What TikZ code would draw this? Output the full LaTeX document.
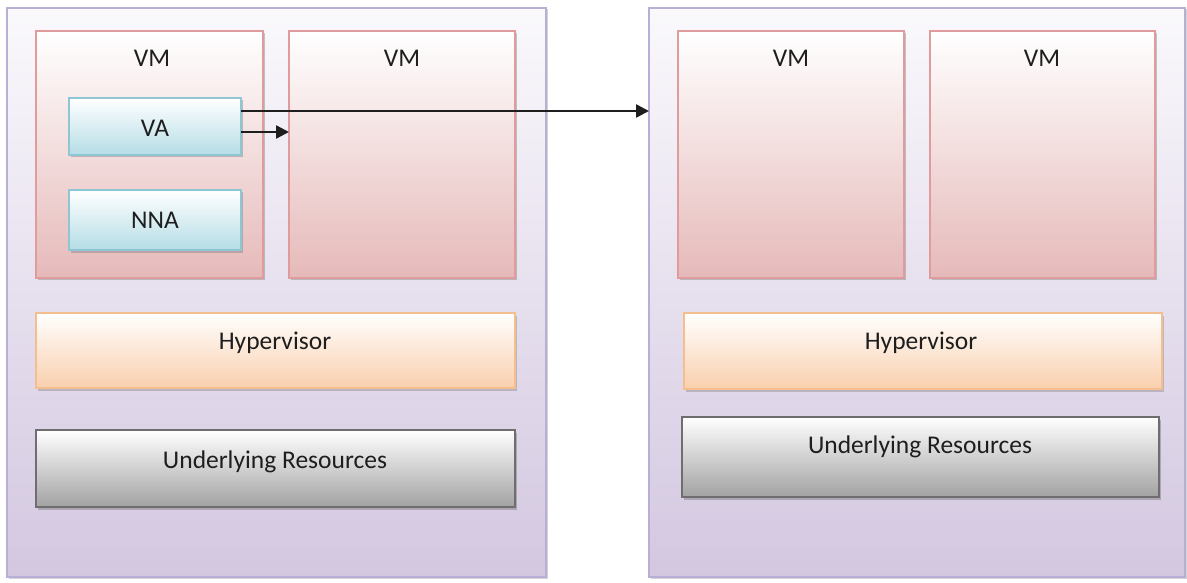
\documentclass[tikz,border=0pt]{standalone}
\usepackage{fontspec}
\setmainfont{Carlito}
\usetikzlibrary{arrows.meta,shadows}
\definecolor{txt}{HTML}{1E1E1E}
\definecolor{outerB}{HTML}{B9AED6}
\definecolor{outerT}{HTML}{FAF9FC}
\definecolor{outerBot}{HTML}{D3C7E0}
\definecolor{vmB}{HTML}{E09C9C}
\definecolor{vmBot}{HTML}{E6B9B9}
\definecolor{vaB}{HTML}{8FC6D4}
\definecolor{vaBot}{HTML}{B5DDE6}
\definecolor{hvB}{HTML}{F5BE8E}
\definecolor{hvBot}{HTML}{F9CFAD}
\definecolor{urB}{HTML}{6E6E6E}
\definecolor{urBot}{HTML}{A2A2A2}
\tikzset{
  base/.style={rectangle, inner sep=0pt, outer sep=0pt, anchor=north west, line width=1.2pt},
  outerbox/.style={base, draw=outerB, top color=outerT, bottom color=outerBot,
     drop shadow={shadow xshift=1.5pt, shadow yshift=-1.5pt, opacity=0.35, fill=gray}},
  vmbox/.style={base, draw=vmB, top color=white, bottom color=vmBot,
     drop shadow={shadow xshift=2pt, shadow yshift=-2pt, opacity=0.45, fill=gray}},
  vabox/.style={base, draw=vaB, top color=white, bottom color=vaBot,
     drop shadow={shadow xshift=2pt, shadow yshift=-2.5pt, opacity=0.45, fill=gray}},
  hvbox/.style={base, draw=hvB, top color=white, bottom color=hvBot,
     drop shadow={shadow xshift=2pt, shadow yshift=-2.5pt, opacity=0.4, fill=gray}},
  urbox/.style={base, draw=urB, top color=white, bottom color=urBot,
     drop shadow={shadow xshift=2pt, shadow yshift=-2.5pt, opacity=0.5, fill=gray}},
  lbl/.style={text=txt, font=\fontsize{25.5}{30}\selectfont, inner sep=0pt},
  conn/.style={draw=txt, line width=2.4pt, -{Triangle[length=13pt,width=13pt]}},
}
\begin{document}
\begin{tikzpicture}[x=1pt,y=-1pt]
\useasboundingbox (0,0) rectangle (1187,583);
% outer hosts
\node[outerbox, minimum width=539pt, minimum height=569pt] (L) at (7,8) {};
\node[outerbox, minimum width=536pt, minimum height=569pt] (R) at (649,8) {};
% left VMs
\node[vmbox, minimum width=227pt, minimum height=247pt] (vm1) at (36,31) {};
\node[vmbox, minimum width=226pt, minimum height=247pt] (vm2) at (289,31) {};
\node[vabox, minimum width=172pt, minimum height=57pt] (va) at (69,98) {};
\node[vabox, minimum width=172pt, minimum height=60pt] (nna) at (69,190) {};
\node[hvbox, minimum width=479pt, minimum height=75pt] (hv1) at (36,313) {};
\node[urbox, minimum width=479pt, minimum height=77pt] (ur1) at (36,430) {};
% right VMs
\node[vmbox, minimum width=226pt, minimum height=247pt] (vm3) at (678,31) {};
\node[vmbox, minimum width=225pt, minimum height=247pt] (vm4) at (930,31) {};
\node[hvbox, minimum width=478pt, minimum height=76pt] (hv2) at (684,313) {};
\node[urbox, minimum width=477pt, minimum height=80pt] (ur2) at (682,417) {};
% labels
\node[lbl] (t1) at (152,58) {VM};
\node[lbl] (t2) at (402,58) {VM};
\node[lbl] (t3) at (791,58) {VM};
\node[lbl] (t4) at (1042,58) {VM};
\node[lbl] (t5) at (155,128) {VA};
\node[lbl] (t6) at (155,220) {NNA};
\node[lbl] (t7) at (275,343) {Hypervisor};
\node[lbl] (t8) at (275,462) {Underlying Resources};
\node[lbl] (t9) at (921,343) {Hypervisor};
\node[lbl] (t10) at (920,447) {Underlying Resources};
% connectors
\coordinate (ya) at (0,111);
\coordinate (yb) at (0,132);
\draw[conn] (va.east |- ya) -- (R.west |- ya);
\draw[conn] (va.east |- yb) -- (vm2.west |- yb);
\end{tikzpicture}
\end{document}
